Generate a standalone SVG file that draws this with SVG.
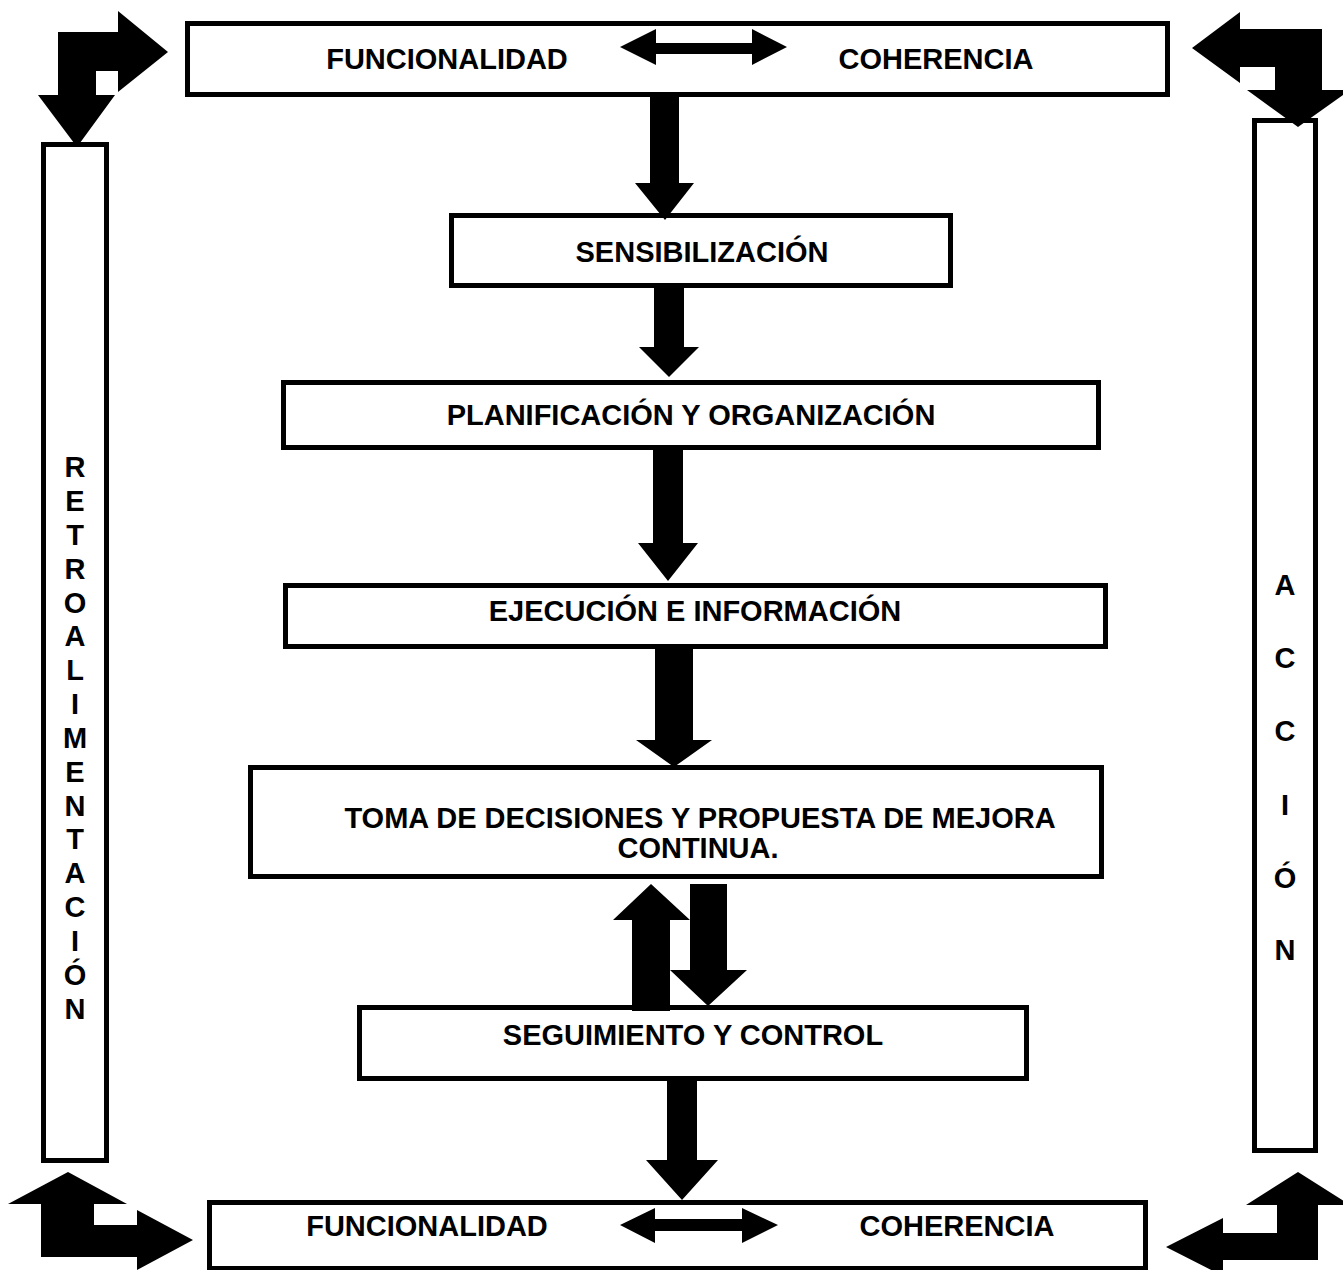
<svg xmlns="http://www.w3.org/2000/svg" width="1343" height="1270" viewBox="0 0 1343 1270">
<style>
.box{fill:#fff;stroke:#000;stroke-width:5}
.t{font-family:"Liberation Sans",Arial,sans-serif;font-weight:bold;font-size:29px;fill:#000;text-anchor:middle}
.ar{fill:#000;stroke:none}
</style>
<rect width="1343" height="1270" fill="#fff"/>
<g id="top-box">
<rect class="box" x="187.5" y="23.5" width="980" height="71"/>
<text class="t" x="447" y="69">FUNCIONALIDAD</text>
<text class="t" x="936" y="69">COHERENCIA</text>
</g>
<g id="sensibilizacion">
<rect class="box" x="451.5" y="215.5" width="499" height="70"/>
<text class="t" x="702" y="262">SENSIBILIZACIÓN</text>
</g>
<g id="planificacion">
<rect class="box" x="283.5" y="382.5" width="815" height="65"/>
<text class="t" x="691" y="425">PLANIFICACIÓN Y ORGANIZACIÓN</text>
</g>
<g id="ejecucion">
<rect class="box" x="285.5" y="585.5" width="820" height="61"/>
<text class="t" x="695" y="621">EJECUCIÓN E INFORMACIÓN</text>
</g>
<g id="toma">
<rect class="box" x="250.5" y="767.5" width="851" height="109"/>
<text class="t" x="700" y="828">TOMA DE DECISIONES Y PROPUESTA DE MEJORA</text>
<text class="t" x="698" y="858">CONTINUA.</text>
</g>
<g id="seguimiento">
<rect class="box" x="359.5" y="1007.5" width="667" height="71"/>
<text class="t" x="693" y="1045">SEGUIMIENTO Y CONTROL</text>
</g>
<g id="bottom-box">
<rect class="box" x="209.5" y="1202.5" width="936" height="66"/>
<text class="t" x="427" y="1236">FUNCIONALIDAD</text>
<text class="t" x="957" y="1236">COHERENCIA</text>
</g>
<g id="retroalimentacion">
<rect class="box" x="43.5" y="144.5" width="63" height="1016"/>
<text class="t" x="75">
<tspan x="75" y="477">R</tspan><tspan x="75" y="511">E</tspan><tspan x="75" y="545">T</tspan><tspan x="75" y="579">R</tspan><tspan x="75" y="613">O</tspan><tspan x="75" y="646">A</tspan><tspan x="75" y="680">L</tspan><tspan x="75" y="714">I</tspan><tspan x="75" y="748">M</tspan><tspan x="75" y="782">E</tspan><tspan x="75" y="816">N</tspan><tspan x="75" y="849">T</tspan><tspan x="75" y="883">A</tspan><tspan x="75" y="917">C</tspan><tspan x="75" y="951">I</tspan><tspan x="75" y="985">Ó</tspan><tspan x="75" y="1019">N</tspan>
</text>
</g>
<g id="accion">
<rect class="box" x="1254.5" y="120.5" width="61" height="1030"/>
<text class="t" x="1285">
<tspan x="1285" y="595">A</tspan><tspan x="1285" y="668">C</tspan><tspan x="1285" y="741">C</tspan><tspan x="1285" y="815">I</tspan><tspan x="1285" y="888">Ó</tspan><tspan x="1285" y="960">N</tspan>
</text>
</g>
<g id="connectors">
<polygon class="ar" points="620,47 656,29 656,43 752,43 752,29 787,47 752,65 752,54 656,54 656,65"/>
<polygon class="ar" points="620,1225 655,1208 655,1219 742,1219 742,1208 778,1225 742,1243 742,1231 655,1231 655,1243"/>
<polygon class="ar" points="650,96 679,96 679,183 694,183 665,220 635,183 650,183"/>
<polygon class="ar" points="654,287 684,287 684,347 699,347 669,377 639,347 654,347"/>
<polygon class="ar" points="653,448 683,448 683,543 698,543 668,581 638,543 653,543"/>
<polygon class="ar" points="655,647 693,647 693,740 712,740 674,767 636,740 655,740"/>
<polygon class="ar" points="632,1011 670,1011 670,920 690,920 651,884 613,920 632,920"/>
<polygon class="ar" points="690,884 727,884 727,970 747,970 708,1006 670,970 690,970"/>
<polygon class="ar" points="667,1079 697,1079 697,1160 718,1160 682,1200 646,1160 667,1160"/>
<polygon class="ar" points="58,32 118,32 118,11 168,52 118,92 118,71 96,71 96,95 115,95 77,147 38,95 58,95"/>
<polygon class="ar" points="1322,29 1240,29 1240,12 1192,48 1240,83 1240,67 1275,67 1275,90 1247,90 1298,127 1350,90 1322,90"/>
<polygon class="ar" points="68,1172 127,1204 94,1204 94,1225 137,1225 137,1210 193,1240 137,1270 137,1257 41,1257 41,1204 8,1204"/>
<polygon class="ar" points="1298,1172 1350,1205 1318,1205 1318,1260 1223,1260 1223,1276 1166,1247 1223,1218 1223,1233 1277,1233 1277,1205 1246,1205"/>
</g>
</svg>
